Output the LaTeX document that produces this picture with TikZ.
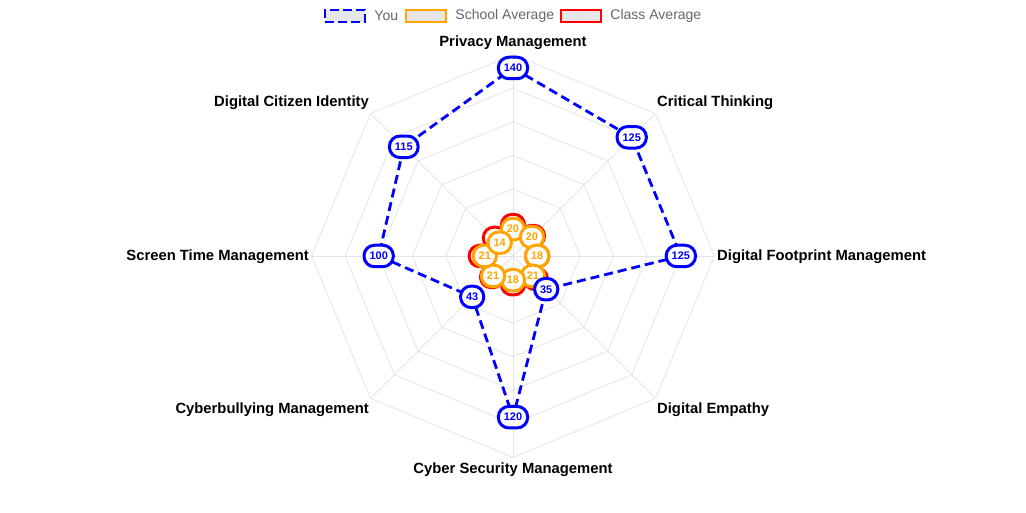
\documentclass[tikz,border=0pt]{standalone}
\usepackage{fontspec}
\setmainfont{Liberation Sans}
\usetikzlibrary{positioning}
\definecolor{gridgray}{HTML}{E4E4E4}
\definecolor{legfill}{HTML}{E6E6E6}
\definecolor{legtext}{HTML}{666666}
\definecolor{avgorange}{HTML}{FFA500}
\definecolor{avgred}{HTML}{FF0000}
\begin{document}
\begin{tikzpicture}[x=1pt,y=1pt,
	grid/.style={draw=gridgray,line width=0.8pt},
	axlabel/.style={font=\fontsize{14.8}{16}\selectfont\bfseries,inner sep=0pt},
	dot/.style={line width=3pt,fill=white,rounded corners=10.5pt,minimum height=21.5pt,minimum width=21.5pt,inner xsep=5.5pt,inner ysep=0pt,font=\fontsize{11}{12}\selectfont\bfseries},
	legbox/.style={fill=legfill,line width=2.6pt,minimum width=40pt,minimum height=12pt,inner sep=0pt},
	legtxt/.style={font=\fontsize{14}{16}\selectfont,text=legtext,inner sep=0pt}]
	\useasboundingbox (-513,-257) rectangle (513,256);
	\def\sc{1.343}
	% grid
	\foreach \r in {1,...,6}
		\draw[grid] (90:\r*25*\sc) \foreach \k in {1,...,7}{ -- (90-45*\k:\r*25*\sc)} -- cycle;
	\foreach \k in {0,...,7}
		\draw[grid] (0,0) -- (90-45*\k:150*\sc);
	% axis labels
	\node[axlabel] (privacy) at (0,213) {Privacy Management};
	\node[axlabel,anchor=west] (critical) at (144,153) {Critical Thinking};
	\node[axlabel,anchor=west] (footprint) at (204,-1) {Digital Footprint Management};
	\node[axlabel,anchor=west] (empathy) at (144,-154) {Digital Empathy};
	\node[axlabel] (security) at (0,-214) {Cyber Security Management};
	\node[axlabel,anchor=east] (bullying) at (-144,-154) {Cyberbullying Management};
	\node[axlabel,anchor=east] (screen) at (-204,-1) {Screen Time Management};
	\node[axlabel,anchor=east] (identity) at (-144,153) {Digital Citizen Identity};
	% class average
	\foreach \k/\v in {0/23,1/21,2/18,3/24,4/21,5/22,6/24,7/19}
		\coordinate (c\k) at (90-45*\k:\v*\sc);
	\draw[avgred,line width=3pt] (c0) -- (c1) -- (c2) -- (c3) -- (c4) -- (c5) -- (c6) -- (c7) -- cycle;
	\foreach \k/\v in {0/23,1/21,2/18,3/24,4/21,5/22,6/24,7/19}
		\node[dot,draw=avgred,text=avgred] (cl\k) at (c\k) {\v};
	% school average
	\foreach \k/\v in {0/20,1/20,2/18,3/21,4/18,5/21,6/21,7/14}
		\coordinate (s\k) at (90-45*\k:\v*\sc);
	\draw[avgorange,line width=3pt] (s0) -- (s1) -- (s2) -- (s3) -- (s4) -- (s5) -- (s6) -- (s7) -- cycle;
	\foreach \k/\v in {0/20,1/20,2/18,3/21,4/18,5/21,6/21,7/14}
		\node[dot,draw=avgorange,text=avgorange] (sl\k) at (s\k) {\v};
	% you
	\foreach \k/\v in {0/140,1/125,2/125,3/35,4/120,5/43,6/100,7/115}
		\coordinate (y\k) at (90-45*\k:\v*\sc);
	\draw[blue,line width=2.8pt,dash pattern=on 9pt off 5pt] (y0) -- (y1) -- (y2) -- (y3) -- (y4) -- (y5) -- (y6) -- (y7) -- cycle;
	\foreach \k/\v in {0/140,1/125,2/125,3/35,4/120,5/43,6/100,7/115}
		\node[dot,draw=blue,text=blue] (yl\k) at (y\k) {\v};
	% legend
	\node[legbox,draw=blue,dash pattern=on 9pt off 4pt] (kyou) at (-168,240) {};
	\node[legtxt,right=8pt of kyou] (tyou) {You};
	\node[legbox,draw=avgorange] (kschool) at (-87,240) {};
	\node[legtxt,right=8pt of kschool] (tschool) {School Average};
	\node[legbox,draw=avgred] (kclass) at (68,240) {};
	\node[legtxt,right=8pt of kclass] (tclass) {Class Average};
\end{tikzpicture}
\end{document}
